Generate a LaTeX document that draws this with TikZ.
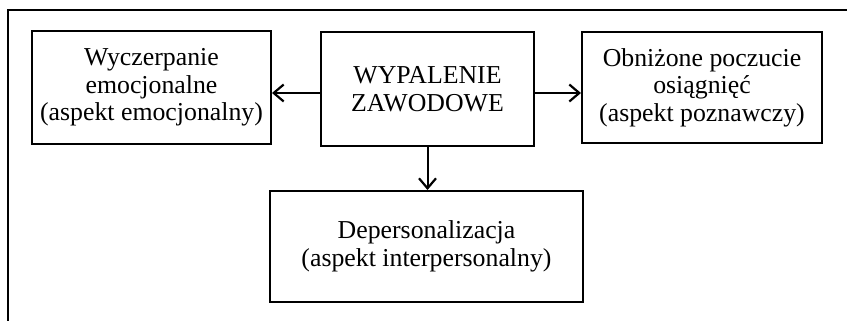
\documentclass[tikz,border=0pt]{standalone}
\usepackage{fontspec}
\setmainfont{Liberation Serif}
\usetikzlibrary{arrows.meta,positioning}

\tikzset{
  box/.style={draw,line width=1pt,align=center,inner sep=0pt,
    font=\fontsize{12.9}{13.7}\selectfont},
  link/.style={line width=1pt,-{Straight Barb[length=5pt,width=8.5pt,line width=1.1pt]}}
}

\begin{document}
\begin{tikzpicture}[x=0.5pt,y=-0.5pt]
\useasboundingbox (0,0) rectangle (847,321);
% ramka
\draw[line width=1.3pt] (8,321) -- (8,10) -- (847,10);
% pola
\node[box,minimum width=106.5pt,minimum height=57pt] (burn) at (427.5,89) {WYPALENIE\\ZAWODOWE};
\node[box,minimum width=119.5pt,minimum height=56.5pt] (emo) at (151.5,87.5) {Wyczerpanie\\emocjonalne\\(aspekt emocjonalny)};
\node[box,minimum width=120pt,minimum height=55.5pt] (ach) at (702,87.5) {Obniżone poczucie\\osiągnięć\\(aspekt poznawczy)};
\node[box,minimum width=156.5pt,minimum height=55.5pt] (dep) at (426.5,246.5) {Depersonalizacja\\(aspekt interpersonalny)};
% strzalki
\draw[link] ([yshift=-2pt]burn.west) -- ([yshift=-2pt]burn.west -| emo.east);
\draw[link] ([yshift=-2pt]burn.east) -- ([yshift=-2pt]burn.east -| ach.west);
\draw[link] (burn.south) -- (burn.south |- dep.north);
\end{tikzpicture}
\end{document}
